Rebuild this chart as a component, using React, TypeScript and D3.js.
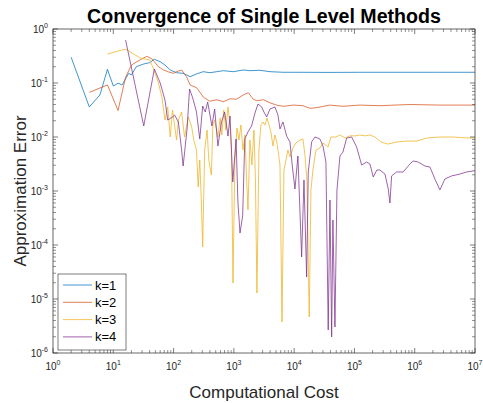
import React from "react";
import * as d3 from "d3";

const title = "Convergence of Single Level Methods";
const xLabel = "Computational Cost";
const yLabel = "Approximation Error";
const seriesNames = ["k=1", "k=2", "k=3", "k=4"];
const seriesColors = ["#0072BD", "#D95319", "#EDB120", "#7E2F8E"];
const xTickExps = [0, 1, 2, 3, 4, 5, 6, 7];
const yTickExps = [0, -1, -2, -3, -4, -5, -6];

const k1Cost = [2, 4, 6, 8, 10, 12, 14, 18, 20, 24, 32, 40, 48, 60, 72, 88, 112, 144, 188, 240, 310, 400, 520, 670, 980, 1430, 1850, 2700, 3970, 6530, 12500, 39000, 123000, 570000, 2600000, 10000000];
const k1Err = [0.3, 0.036, 0.06, 0.179, 0.088, 0.099, 0.092, 0.151, 0.141, 0.2, 0.225, 0.238, 0.275, 0.248, 0.215, 0.174, 0.155, 0.151, 0.131, 0.147, 0.162, 0.155, 0.162, 0.169, 0.162, 0.174, 0.169, 0.172, 0.162, 0.158, 0.158, 0.157, 0.158, 0.158, 0.158, 0.158];

const k2Cost = [4, 8, 12, 16, 20, 28, 36, 44, 48, 56, 68, 80, 100, 112, 136, 164, 188, 240, 272, 310, 400, 520, 670, 860, 1100, 1430, 1740, 2100, 2400, 3100, 3970, 5100, 6600, 9700, 14000, 18300, 24000, 39000, 65000, 123000, 265000, 830000, 2600000, 10000000];
const k2Err = [0.067, 0.092, 0.031, 0.128, 0.215, 0.27, 0.312, 0.278, 0.248, 0.2, 0.174, 0.162, 0.151, 0.162, 0.174, 0.131, 0.092, 0.082, 0.068, 0.055, 0.046, 0.049, 0.045, 0.051, 0.05, 0.06, 0.066, 0.05, 0.047, 0.049, 0.043, 0.039, 0.037, 0.039, 0.038, 0.034, 0.035, 0.039, 0.037, 0.039, 0.038, 0.04, 0.039, 0.039];

const k3Cost = [8, 16, 28, 40, 46, 56, 64, 72, 80, 88, 96, 112, 120, 136, 152, 176, 200, 216, 240, 256, 272, 288, 304, 328, 360, 384, 424, 448, 480, 544, 592, 632, 680, 736, 800, 864, 912, 968, 1040, 1128, 1216, 1312, 1416, 1528, 1618, 1714, 1848, 1992, 2154, 2280, 2416, 2608, 2814, 3040, 3281, 3541, 3821, 4123, 4449, 4809, 5190, 5823, 6284, 6776, 7311, 7889, 8518, 9550, 10700, 12500, 14000, 15100, 16300, 17800, 19000, 20500, 23000, 26800, 30000, 33700, 36400, 40800, 49300, 57500, 69500, 84200, 106000, 123000, 149000, 181000, 219000, 275000, 360000, 507000, 743000, 1090000, 1590000, 2620000, 4300000, 7340000, 10000000];
const k3Err = [0.344, 0.426, 0.29, 0.267, 0.19, 0.1, 0.055, 0.0206, 0.036, 0.01, 0.0316, 0.0088, 0.0206, 0.029, 0.01, 0.0235, 0.0153, 0.0088, 0.00575, 0.00119, 0.00375, 0.00068, 0.000092, 0.00575, 0.0135, 0.00375, 0.00198, 0.0167, 0.0206, 0.01, 0.0225, 0.0109, 0.0316, 0.0135, 0.036, 0.0167, 0.00575, 0.0000198, 0.00375, 0.0147, 0.0088, 0.0167, 0.00575, 0.0109, 0.00198, 0.000445, 0.0088, 0.00303, 0.0135, 0.0016, 0.0000129, 0.00575, 0.0167, 0.019, 0.0167, 0.0225, 0.0167, 0.0124, 0.0068, 0.0109, 0.00774, 0.00303, 0.00000375, 0.00245, 0.00375, 0.00575, 0.00427, 0.00625, 0.00774, 0.0088, 0.0092, 0.00464, 0.0016, 0.00000464, 0.00105, 0.00245, 0.00575, 0.00625, 0.00774, 0.0071, 0.0065, 0.01, 0.01, 0.0109, 0.0096, 0.0105, 0.0105, 0.0109, 0.0105, 0.0109, 0.01, 0.0081, 0.0074, 0.0081, 0.0084, 0.0084, 0.0096, 0.01, 0.01, 0.0096, 0.0096];

const k4Cost = [16, 32, 48, 60, 72, 80, 96, 104, 120, 136, 144, 152, 168, 184, 208, 240, 272, 304, 336, 368, 432, 480, 544, 624, 704, 800, 864, 960, 1088, 1168, 1264, 1400, 1520, 1712, 1968, 2240, 2512, 2896, 3152, 3504, 3968, 4800, 5392, 5824, 6528, 7504, 8512, 9440, 10320, 11552, 13312, 14560, 16112, 17152, 19520, 22144, 26784, 30080, 33664, 36736, 39296, 41888, 43968, 47520, 51296, 57504, 64480, 74304, 89984, 108700, 131600, 159300, 181000, 205000, 236000, 265000, 321000, 364000, 388000, 414000, 501000, 645000, 832000, 944000, 1140000, 1480000, 1790000, 2160000, 2620000, 3170000, 4090000, 5620000, 7260000, 10000000];
const k4Err = [0.626, 0.016, 0.182, 0.1, 0.0484, 0.0206, 0.0235, 0.0255, 0.019, 0.00575, 0.0029, 0.00506, 0.0147, 0.0774, 0.0528, 0.029, 0.0092, 0.0375, 0.029, 0.0445, 0.016, 0.033, 0.0068, 0.019, 0.029, 0.0104, 0.0245, 0.00147, 0.0092, 0.000625, 0.000167, 0.000344, 0.0092, 0.0124, 0.016, 0.0278, 0.0408, 0.036, 0.029, 0.0235, 0.033, 0.036, 0.0255, 0.0141, 0.019, 0.0104, 0.0081, 0.00255, 0.00109, 0.00445, 0.00006, 0.0016, 0.0000255, 0.00225, 0.0081, 0.01, 0.0092, 0.0068, 0.00344, 0.00000267, 0.00068, 0.00000198, 0.00029, 0.00000303, 0.00104, 0.00445, 0.00527, 0.00958, 0.01, 0.00653, 0.00303, 0.00344, 0.00316, 0.00182, 0.00245, 0.00245, 0.00206, 0.00109, 0.0006, 0.0019, 0.00225, 0.00225, 0.00316, 0.0036, 0.00344, 0.0029, 0.00278, 0.00167, 0.00105, 0.00167, 0.0019, 0.00206, 0.00225, 0.00238];

const costs = [k1Cost, k2Cost, k3Cost, k4Cost];
const errs = [k1Err, k2Err, k3Err, k4Err];

const W = 483;
const H = 403;
const M = { left: 53, right: 475, top: 29, bottom: 353 };
const FONT = "'Liberation Sans', Arial, Helvetica, sans-serif";
const AX = "#262626";

export default function App() {
  const x = d3.scaleLog().domain([1, 1e7]).range([M.left, M.right]);
  const y = d3.scaleLog().domain([1e-6, 1]).range([M.bottom, M.top]);
  const line = d3
    .line<[number, number]>()
    .x((d) => x(d[0]))
    .y((d) => y(d[1]));

  const xMinor: number[] = [];
  for (let e = 0; e < 7; e++) for (let m = 2; m <= 9; m++) xMinor.push(m * Math.pow(10, e));
  const yMinor: number[] = [];
  for (let e = -6; e < 0; e++) for (let m = 2; m <= 9; m++) yMinor.push(m * Math.pow(10, e));

  const majorLen = 5;
  const minorLen = 3;

  return (
    <svg width={W} height={H} style={{ position: "absolute", left: 0, top: 0, background: "#fff" }} fontFamily={FONT}>
      <defs>
        <clipPath id="plotclip">
          <rect x={M.left} y={M.top} width={M.right - M.left} height={M.bottom - M.top} />
        </clipPath>
      </defs>
      <rect x={0} y={0} width={W} height={H} fill="#fff" />
      <g clipPath="url(#plotclip)">
        {costs.map((c, i) => (
          <path
            key={i}
            d={line(c.map((v, j) => [v, errs[i][j]] as [number, number])) || ""}
            fill="none"
            stroke={seriesColors[i]}
            strokeWidth={0.75}
            strokeLinejoin="round"
          />
        ))}
      </g>
      <rect x={M.left} y={M.top} width={M.right - M.left} height={M.bottom - M.top} fill="none" stroke={AX} strokeWidth={0.7} />
      {xTickExps.map((e) => {
        const px = x(Math.pow(10, e));
        return (
          <g key={"xt" + e}>
            <line x1={px} x2={px} y1={M.bottom} y2={M.bottom - majorLen} stroke={AX} strokeWidth={0.6} />
            <line x1={px} x2={px} y1={M.top} y2={M.top + majorLen} stroke={AX} strokeWidth={0.6} />
            <text x={px} y={370} textAnchor="middle" fontSize={10} fill={AX}>
              10<tspan dy={-5} fontSize={7}>{e}</tspan>
            </text>
          </g>
        );
      })}
      {xMinor.map((v, i) => {
        const px = x(v);
        return (
          <g key={"xm" + i}>
            <line x1={px} x2={px} y1={M.bottom} y2={M.bottom - minorLen} stroke={AX} strokeWidth={0.5} />
            <line x1={px} x2={px} y1={M.top} y2={M.top + minorLen} stroke={AX} strokeWidth={0.5} />
          </g>
        );
      })}
      {yTickExps.map((e) => {
        const py = y(Math.pow(10, e));
        return (
          <g key={"yt" + e}>
            <line x1={M.left} x2={M.left + majorLen} y1={py} y2={py} stroke={AX} strokeWidth={0.6} />
            <line x1={M.right} x2={M.right - majorLen} y1={py} y2={py} stroke={AX} strokeWidth={0.6} />
            <text x={M.left - 5} y={py + 4} textAnchor="end" fontSize={10} fill={AX}>
              10<tspan dy={-5} fontSize={7}>{e}</tspan>
            </text>
          </g>
        );
      })}
      {yMinor.map((v, i) => {
        const py = y(v);
        return (
          <g key={"ym" + i}>
            <line x1={M.left} x2={M.left + minorLen} y1={py} y2={py} stroke={AX} strokeWidth={0.5} />
            <line x1={M.right} x2={M.right - minorLen} y1={py} y2={py} stroke={AX} strokeWidth={0.5} />
          </g>
        );
      })}
      <text x={(M.left + M.right) / 2} y={23} textAnchor="middle" fontSize={19.6} fontWeight="bold" fill="#000">
        {title}
      </text>
      <text x={(M.left + M.right) / 2} y={398} textAnchor="middle" fontSize={17} fill={AX}>
        {xLabel}
      </text>
      <text transform={`translate(26,${(M.top + M.bottom) / 2}) rotate(-90)`} textAnchor="middle" fontSize={17} fill={AX}>
        {yLabel}
      </text>
      <g>
        <rect x={58} y={274} width={68} height={76} fill="#fff" stroke={AX} strokeWidth={0.6} />
        {seriesNames.map((n, i) => {
          const ly = 285 + i * 17.3;
          return (
            <g key={n}>
              <line x1={63} x2={92} y1={ly} y2={ly} stroke={seriesColors[i]} strokeWidth={0.75} />
              <text x={95} y={ly + 4.5} fontSize={13} fill="#000">
                {n}
              </text>
            </g>
          );
        })}
      </g>
    </svg>
  );
}
